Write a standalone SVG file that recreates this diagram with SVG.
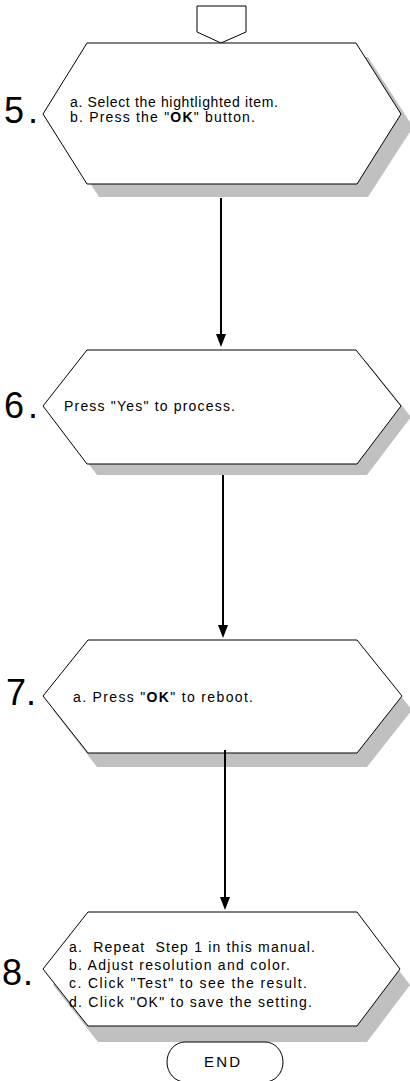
<svg xmlns="http://www.w3.org/2000/svg" width="410" height="1081" viewBox="0 0 410 1081">
<style>
.hex{fill:#fff;stroke:#000;stroke-width:1}
.sh{fill:#c0c0c0;stroke:none}
.t{font-family:"Liberation Sans",Arial,sans-serif;font-size:14px;fill:#000}
.num{font-family:"Liberation Sans",Arial,sans-serif;font-size:36px;fill:#000}
.b{font-weight:bold}
.ln{stroke:#000;stroke-width:2;fill:none}
.ah{fill:#000;stroke:none}
</style>
<rect width="410" height="1081" fill="#fff"/>

<g id="offpage">
<polygon class="hex" points="197,6 246,6 246,32 221,43 197,32"/>
</g>

<g id="step5">
<polygon class="sh" points="54,127 99,57 368,57 413,127 368,197 99,197"/>
<polygon class="hex" points="43,114 87,43 356,43 401,114 357,184 87,184"/>
<text class="num" x="4" y="123" textLength="34" lengthAdjust="spacing">5.</text>
<text class="t" x="70" y="107" textLength="208">a. Select the hightlighted item.</text>
<text class="t" x="70" y="122" textLength="185">b. Press the "<tspan class="b">OK</tspan>" button.</text>
</g>

<g id="step6">
<polygon class="sh" points="53,417 97,361 366,361 411,417 367,475 97,475"/>
<polygon class="hex" points="43,406 87,350 356,350 401,406 357,464 87,464"/>
<text class="num" x="4" y="418" textLength="34" lengthAdjust="spacing">6.</text>
<text class="t" x="64" y="411" textLength="171">Press "Yes" to process.</text>
</g>

<g id="step7">
<polygon class="sh" points="53,710 97,654 367,654 412,710 367,767 97,767"/>
<polygon class="hex" points="43,696 88,640 357,640 402,696 357,753 88,753"/>
<text class="num" x="6" y="705" textLength="30" lengthAdjust="spacing">7.</text>
<text class="t" x="73" y="702" textLength="180">a. Press "<tspan class="b">OK</tspan>" to reboot.</text>
</g>

<g id="step8">
<polygon class="sh" points="53,985 98,928 367,928 410,985 367,1042 98,1042"/>
<polygon class="hex" points="43,969 88,912 357,912 400,969 357,1026 88,1026"/>
<text class="num" x="2" y="985" textLength="31" lengthAdjust="spacing">8.</text>
<text class="t" x="69" y="952" textLength="246" xml:space="preserve">a.  Repeat  Step 1 in this manual.</text>
<text class="t" x="69" y="970" textLength="221">b. Adjust resolution and color.</text>
<text class="t" x="69" y="988" textLength="238">c. Click "Test" to see the result.</text>
<text class="t" x="69" y="1007" textLength="243">d. Click "OK" to save the setting.</text>
</g>

<g id="end">
<rect x="167" y="1042" width="116" height="40" rx="18" ry="20" fill="#fff" stroke="#000" stroke-width="1"/>
<text class="t" x="204" y="1067" textLength="36" style="font-size:15px">END</text>
</g>

<g id="connectors">
<line class="ln" x1="221" y1="198" x2="221" y2="336"/>
<polygon class="ah" points="216,334 226,334 221,347"/>
<line class="ln" x1="223" y1="475" x2="223" y2="627"/>
<polygon class="ah" points="218,625 228,625 223,638"/>
<line class="ln" x1="225" y1="750" x2="225" y2="899"/>
<polygon class="ah" points="220,897 230,897 225,910"/>
</g>
</svg>
